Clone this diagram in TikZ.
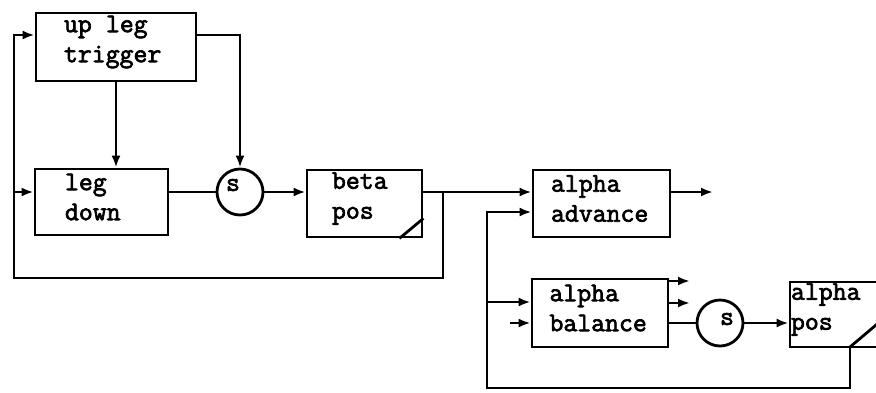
\documentclass[tikz,border=0pt]{standalone}
\usepackage{fontspec}
\newfontfamily\typefont{Latin Modern Mono}[FakeBold=2.5]
\usetikzlibrary{arrows.meta,calc}

\begin{document}
\begin{tikzpicture}[>={Latex[length=12pt,width=9pt]},x=1pt,y=-1pt,line width=2.8pt,
  every node/.style={font=\typefont\fontsize{27}{30}\selectfont},
  blk/.style={draw,align=left,inner ysep=0pt,execute at end node={\endgraf\vspace*{10pt}}},
  sum/.style={draw,circle,minimum size=46pt,inner sep=0pt}]
\useasboundingbox (0,0) rectangle (876,392);
\clip (0,0) rectangle (876,392);
% leg loop
\node[blk,text width=104pt,inner xsep=28pt,minimum height=68pt] (trig) at (116,47) {up\hspace{.525em}leg\\trigger};
\node[blk,text width=73pt,inner xsep=30pt,minimum height=66pt] (legdn) at (101.5,202) {leg\\down};
\node[sum,label={[xshift=-7pt,yshift=7pt]center:s}] (s1) at (240,192) {};
\node[blk,text width=65pt,inner xsep=25pt,minimum height=67pt] (beta) at (364.5,203.5) {beta\\pos};
\draw ($(beta.south east)+(-24,0)$) -- ($(beta.south east)+(0,-20)$);
\coordinate (bfork) at (443,192); \coordinate (bfeed) at (14,278);
\draw[->] (trig.south) -- (trig.south |- legdn.north);
\draw[->] ($(trig.east)+(0,-12)$) -| (s1.north);
\draw (legdn.east |- s1) -- (s1.west); \draw[->] (s1.east) -- (beta.west |- s1);
\draw[->] (bfork) |- (bfeed) |- ($(trig.west)+(0,-12)$);
\draw[->] (bfeed |- s1) -- (legdn.west |- s1);
% alpha loop
\node[blk,text width=101pt,inner xsep=18pt,minimum height=67pt] (adv) at (601.5,203.5) {alpha\\advance};
\node[blk,text width=101pt,inner xsep=17.5pt,minimum height=68pt] (bal) at (600,313) {alpha\\balance};
\node[sum,label={[xshift=7pt,yshift=4pt]center:s}] (s2) at (720,323) {};
\node[blk,text width=128pt,inner xsep=1pt,minimum height=65pt] (apos) at (855,314.5) {alpha\\pos};
\coordinate (advout) at (713,192); \coordinate (afoot) at (850,347); \coordinate (afeed) at (487,388);
\coordinate (bstub) at (510,323); \coordinate (bo1) at (690,281); \coordinate (bo2) at (690,303);
\draw (afoot) -- ++(52,-44);
\draw[->] (beta.east |- s1) -- (adv.west |- s1); \draw[->] (adv.east |- s1) -- (advout);
\draw[->] (afoot) |- (afeed) |- ($(adv.west)+(0,8.5)$);
\draw[->] (afeed |- bal.west) ++(0,-11) -- ($(bal.west)+(0,-11)$);
\draw[->] (bstub) -- (bal.west |- bstub);
\draw[->] (bal.east |- bo1) -- (bo1); \draw[->] (bal.east |- bo2) -- (bo2);
\draw (bal.east |- s2) -- (s2.west); \draw[->] (s2.east) -- (apos.west |- s2);
\end{tikzpicture}
\end{document}
